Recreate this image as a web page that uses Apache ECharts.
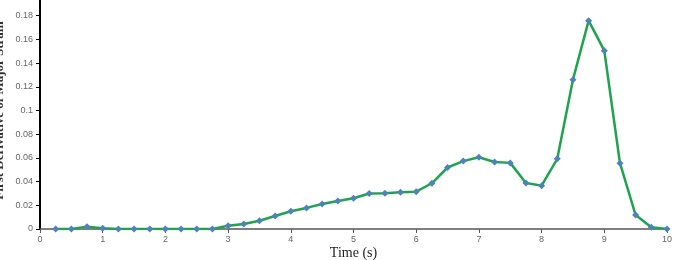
<!DOCTYPE html>
<html><head><meta charset="utf-8">
<script src="https://cdn.jsdelivr.net/npm/echarts@6/dist/echarts.min.js"></script>
<style>html,body{margin:0;padding:0;background:#fff}#c{width:677px;height:260px}</style>
</head><body><div id="c"></div>
<script>
const times = [0.25,0.5,0.75,1,1.25,1.5,1.75,2,2.25,2.5,2.75,3,3.25,3.5,3.75,4,4.25,4.5,4.75,5,5.25,5.5,5.75,6,6.25,6.5,6.75,7,7.25,7.5,7.75,8,8.25,8.5,8.75,9,9.25,9.5,9.75,10];
const values = [0,0,0.002,0.0006,0,0,0,0,0,0,0,0.0028,0.0042,0.007,0.011,0.015,0.0178,0.0211,0.0237,0.026,0.0299,0.0301,0.031,0.0315,0.0386,0.0519,0.0573,0.0606,0.0566,0.0558,0.0389,0.0366,0.0592,0.126,0.1758,0.1505,0.0555,0.0118,0.0014,0];
const xTicks = [0,1,2,3,4,5,6,7,8,9,10];
const yTicks = [0,0.02,0.04,0.06,0.08,0.1,0.12,0.14,0.16,0.18];
const chart = echarts.init(document.getElementById('c'), null, {renderer:'canvas'});
chart.setOption({
  animation:false,
  grid:{left:40,right:10,top:-8,bottom:31,containLabel:false,outerBoundsMode:'none'},
  xAxis:{type:'value',min:0,max:10,interval:1,
    name:'Time (s)',nameLocation:'middle',nameGap:17,nameMoveOverlap:false,
    nameTextStyle:{fontFamily:'Liberation Serif',fontSize:14,color:'#222'},
    axisLine:{lineStyle:{color:'#555',width:1.5}},
    axisTick:{show:true,length:4,lineStyle:{color:'#555'}},
    axisLabel:{fontSize:9,color:'#666',margin:6,formatter:v=>xTicks.includes(v)?String(v):''},
    splitLine:{show:false}},
  yAxis:{type:'value',min:0,max:0.2,interval:0.02,
    name:'First Derivative of Major Strain',nameLocation:'middle',nameGap:34,nameMoveOverlap:false,
    nameTextStyle:{fontFamily:'Liberation Serif',fontSize:13,fontWeight:'bold',color:'#333'},
    axisLine:{show:true,lineStyle:{color:'#000',width:2}},
    axisTick:{show:true,length:4,lineStyle:{color:'#000'}},
    axisLabel:{fontSize:9,color:'#666',margin:7,formatter:v=>{const r=Math.round(v*100)/100;return yTicks.some(t=>Math.abs(t-r)<1e-9)?String(r):'';}},
    splitLine:{show:false}},
  series:[{type:'line',data:times.map((t,i)=>[t,values[i]]),
    lineStyle:{color:'#1ea34e',width:2.5},
    symbol:'diamond',symbolSize:7,
    itemStyle:{color:'#4f81bd'}}]
});
</script></body></html>
